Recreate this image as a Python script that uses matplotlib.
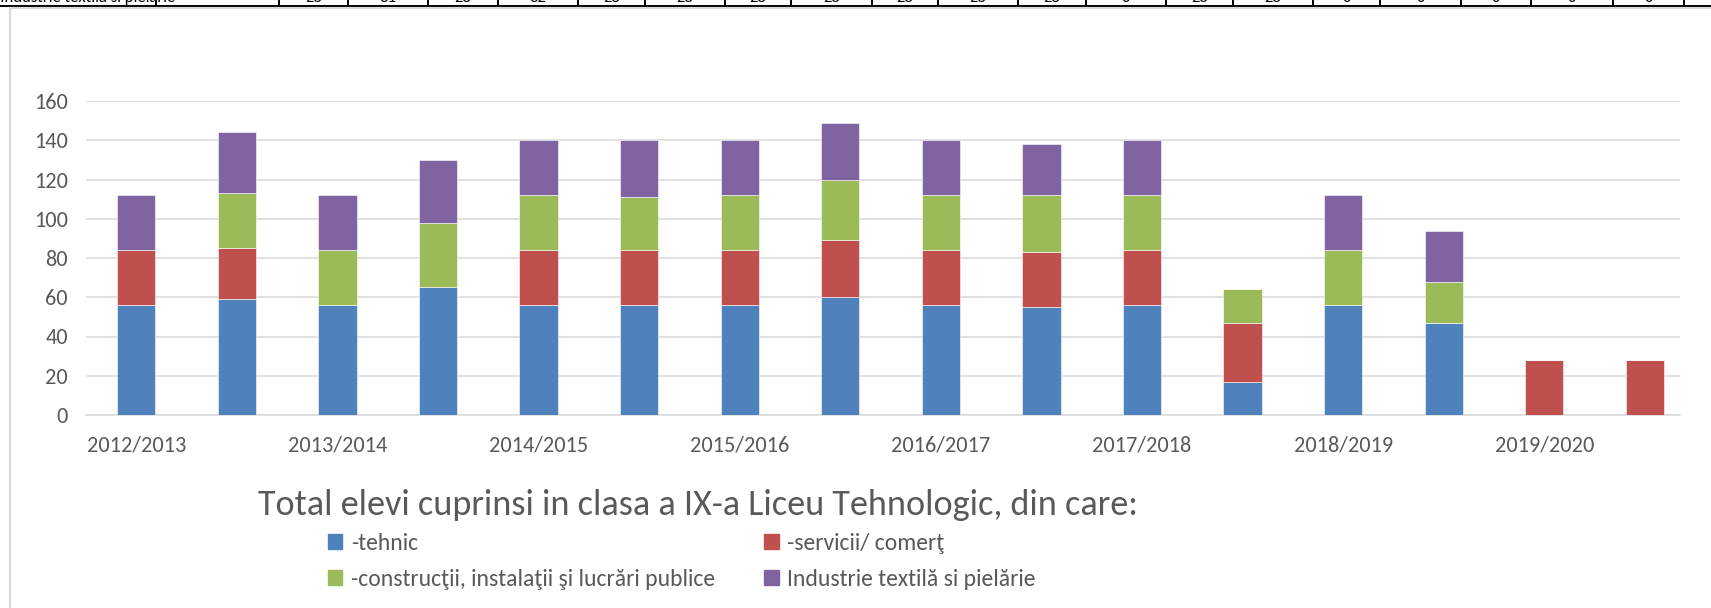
import matplotlib
matplotlib.use("Agg")
import matplotlib.pyplot as plt
from matplotlib.patches import Patch
from matplotlib.lines import Line2D
import numpy as np

# school years, one label every other bar
categories = ["2012/2013", "", "2013/2014", "", "2014/2015", "", "2015/2016", "",
              "2016/2017", "", "2017/2018", "", "2018/2019", "", "2019/2020", ""]

tehnic = [56, 59, 56, 65, 56, 56, 56, 60, 56, 55, 56, 17, 56, 47, 0, 0]
servicii = [28, 26, 0, 0, 28, 28, 28, 29, 28, 28, 28, 30, 0, 0, 28, 28]
constructii = [0, 28, 28, 33, 28, 27, 28, 31, 28, 29, 28, 17, 28, 21, 0, 0]
textile = [28, 31, 28, 32, 28, 29, 28, 29, 28, 26, 28, 0, 28, 26, 0, 0]

series_names = ["-tehnic", "-servicii/ comerţ",
                "-construcţii, instalaţii şi lucrări publice",
                "Industrie textilă si pielărie"]
colors = ["#4F81BD", "#C0504D", "#9BBB59", "#8064A2"]

# last row of the table above the chart (mostly cut off)
table_label = "Industrie textilă si pielărie"
table_values = [28, 31, 28, 32, 28, 28, 28, 28, 28, 28, 28, 0, 28, 28, 0, 0, 0, 0, 0]
table_edges = [279, 348, 428, 498, 578, 645, 725, 791, 872, 938, 1018, 1086,
               1166, 1233, 1313, 1380, 1461, 1531, 1613, 1684]

FONT = ["Carlito", "DejaVu Sans"]
GREY = "#595959"
W, H = 1711, 608

fig = plt.figure(figsize=(W / 100, H / 100), dpi=100)


def fx(px):
    return px / W


def fy(py):
    return 1 - py / H


# table strip at the top
fig.add_artist(Line2D([0, 1], [fy(6), fy(6)], color="black", lw=1.4))
for e in [156] + table_edges:
    fig.add_artist(Line2D([fx(e), fx(e)], [fy(-2), fy(6)], color="black", lw=1.4))
fig.text(fx(-4), fy(2), "I" + table_label, family=FONT, fontsize=12, va="baseline", ha="left")
for i, v in enumerate(table_values):
    cx = (table_edges[i] + table_edges[i + 1]) / 2
    fig.text(fx(cx), fy(2), str(v), family=FONT, fontsize=12, va="baseline", ha="center")

# chart area border
fig.add_artist(Line2D([fx(10), fx(10)], [fy(8), 0], color="#d9d9d9", lw=1.5))
fig.add_artist(Line2D([fx(10), 1], [fy(8), fy(8)], color="#d9d9d9", lw=1.5))

ax = fig.add_axes([fx(86), fy(415), fx(1680) - fx(86), fy(101) - fy(415)])

x = np.arange(len(categories))
bottom = np.zeros(len(categories))
for vals, c, name in zip([tehnic, servicii, constructii, textile], colors, series_names):
    ax.bar(x, vals, width=0.38, bottom=bottom, color=c, edgecolor="white",
           linewidth=0.4, label=name, zorder=3)
    bottom += np.array(vals)

ax.set_xlim(-0.5, 15.35)
ax.set_ylim(0, 160)
ax.set_yticks(range(0, 161, 20))
ax.set_xticks(x)
ax.set_xticklabels(categories)
ax.grid(axis="y", color="#d9d9d9", lw=1.1, zorder=0)
for s in ["top", "right", "left"]:
    ax.spines[s].set_visible(False)
ax.spines["bottom"].set_color("#d9d9d9")
ax.spines["bottom"].set_linewidth(1.1)
ax.tick_params(axis="both", length=0, colors=GREY, labelsize=16)
ax.tick_params(axis="x", pad=15)
ax.tick_params(axis="y", pad=13)
for lab in ax.get_xticklabels() + ax.get_yticklabels():
    lab.set_family(FONT)

fig.text(fx(698), fy(505), "Total elevi cuprinsi in clasa a IX-a Liceu Tehnologic, din care:",
         family=FONT, fontsize=26, color=GREY, ha="center", va="center")

handles = [Patch(color=c) for c in colors]
order = [0, 2, 1, 3]
leg = fig.legend([handles[i] for i in order], [series_names[i] for i in order],
                 ncol=2, loc="upper left", bbox_to_anchor=(fx(307), fy(512)),
                 frameon=False, handlelength=0.6, handleheight=0.6, handletextpad=0.35,
                 columnspacing=2.1, labelspacing=0.62,
                 prop={"family": FONT, "size": 17})
for t in leg.get_texts():
    t.set_color(GREY)

fig.savefig("out.png", dpi=100)
